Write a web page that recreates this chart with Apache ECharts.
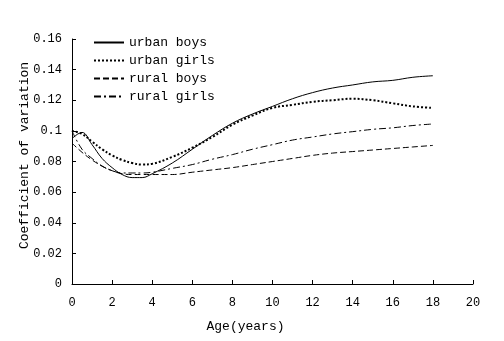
<!DOCTYPE html>
<html>
<head>
<meta charset="utf-8">
<script src="https://cdn.jsdelivr.net/npm/echarts@6/dist/echarts.min.js"></script>
<style>
  html, body { margin: 0; padding: 0; background: #fff; }
  #chart { width: 504px; height: 341px; }
</style>
</head>
<body>
<div id="chart"></div>
<script>
// Age points (years) where the coefficient of variation was estimated
const ages = [0, 0.5, 1, 1.5, 2, 2.5, 3, 3.5, 4, 5, 6, 7, 8, 9, 10, 11, 12, 13, 14, 15, 16, 17, 18];

const urbanBoys  = [0.095, 0.099, 0.091, 0.082, 0.076, 0.0715, 0.0695, 0.0695, 0.072, 0.079, 0.088, 0.097, 0.105, 0.111, 0.116, 0.121, 0.125, 0.128, 0.130, 0.132, 0.133, 0.135, 0.136];
const urbanGirls = [0.100, 0.098, 0.093, 0.088, 0.084, 0.081, 0.079, 0.078, 0.0785, 0.083, 0.089, 0.096, 0.104, 0.110, 0.115, 0.117, 0.119, 0.120, 0.121, 0.120, 0.118, 0.116, 0.115];
const ruralBoys  = [0.092, 0.086, 0.081, 0.077, 0.074, 0.072, 0.0715, 0.0715, 0.0715, 0.0715, 0.073, 0.0745, 0.076, 0.078, 0.080, 0.082, 0.084, 0.0855, 0.0865, 0.0875, 0.0885, 0.0895, 0.0905];
const ruralGirls = [0.100, 0.088, 0.082, 0.077, 0.074, 0.0725, 0.0725, 0.0725, 0.073, 0.0755, 0.078, 0.0815, 0.0845, 0.088, 0.091, 0.094, 0.096, 0.098, 0.0995, 0.101, 0.102, 0.1035, 0.1045];

const seriesNames = ['urban boys', 'urban girls', 'rural boys', 'rural girls'];
const seriesValues = [urbanBoys, urbanGirls, ruralBoys, ruralGirls];
const dashStyles = ['solid', [2, 2], [6, 3], [7, 3, 2, 3]];
const lineWidths = [1, 2, 1, 1];

const FONT = '"Liberation Mono", "DejaVu Sans Mono", monospace';

const chart = echarts.init(document.getElementById('chart'), null, { renderer: 'canvas' });

chart.setOption({
  backgroundColor: '#ffffff',
  animation: false,
  grid: { left: 72, right: 31, top: 39, bottom: 57, outerBoundsMode: 'none', containLabel: false },
  legend: {
    orient: 'vertical',
    left: 93,
    top: 36,
    padding: 0,
    itemWidth: 30,
    itemHeight: 12,
    itemGap: 5,
    itemStyle: { opacity: 0 },
    textStyle: { fontFamily: FONT, fontSize: 13, color: '#000' },
    data: seriesNames
  },
  xAxis: {
    type: 'value',
    min: 0,
    max: 20,
    interval: 2,
    name: 'Age(years)',
    nameLocation: 'middle',
    nameGap: 36,
    nameMoveOverlap: false,
    nameTextStyle: { fontFamily: FONT, fontSize: 13, color: '#000', padding: [0, 54, 0, 0] },
    axisLine: { lineStyle: { color: '#000', width: 1 } },
    axisTick: { inside: true, length: 4, lineStyle: { color: '#000' } },
    axisLabel: { fontFamily: FONT, fontSize: 12, color: '#000', margin: 13 },
    splitLine: { show: false }
  },
  yAxis: {
    type: 'value',
    min: 0,
    max: 0.16,
    interval: 0.02,
    name: 'Coefficient of variation',
    nameLocation: 'middle',
    nameGap: 41,
    nameMoveOverlap: false,
    nameTextStyle: { fontFamily: FONT, fontSize: 13, color: '#000', padding: [0, 0, 0, 12] },
    axisLine: { show: true, lineStyle: { color: '#000', width: 1 } },
    axisTick: { show: true, inside: true, length: 4, lineStyle: { color: '#000' } },
    axisLabel: { fontFamily: FONT, fontSize: 12, color: '#000', margin: 10 },
    splitLine: { show: false }
  },
  series: seriesNames.map((name, i) => ({
    name: name,
    type: 'line',
    smooth: 0.4,
    symbol: 'none',
    data: ages.map((a, j) => [a, seriesValues[i][j]]),
    lineStyle: { color: '#000', width: lineWidths[i], type: dashStyles[i] },
    itemStyle: { color: '#000' }
  }))
});
</script>
</body>
</html>
